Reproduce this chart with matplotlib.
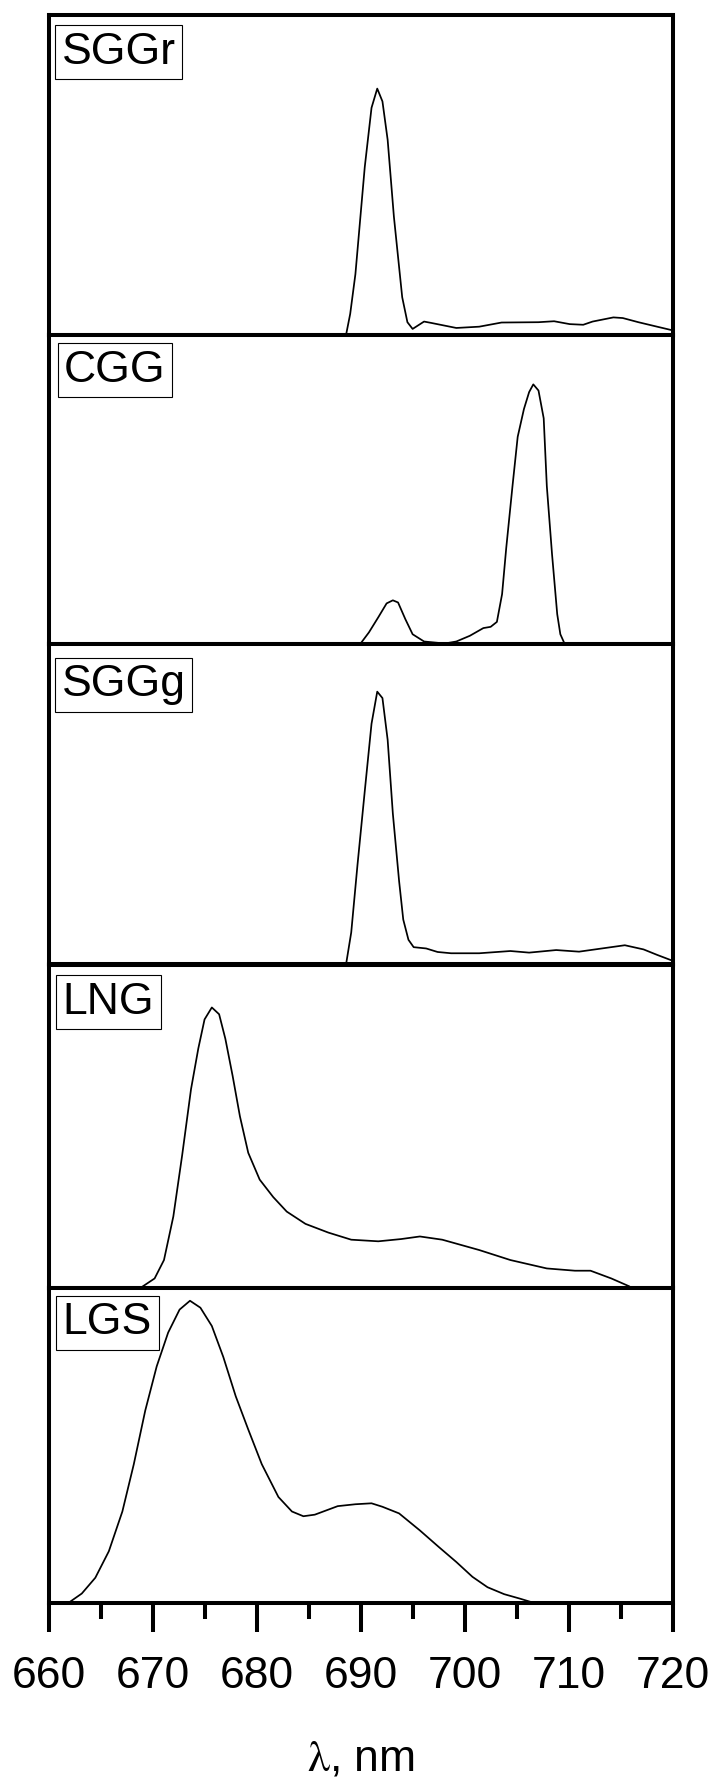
import matplotlib
matplotlib.use("Agg")
import matplotlib.pyplot as plt
import numpy as np

plt.rcParams['font.family'] = ['Liberation Sans', 'DejaVu Sans']
plt.rcParams['mathtext.fontset'] = 'stix'

# ---- data (wavelength nm, relative intensity 0..1 of panel height) ----
sggr_x = [688.6, 689.0, 689.5, 690.4, 691.05, 691.6, 692.1, 692.6, 693.2, 694.0, 694.5, 695.0,
          696.1, 696.75, 699.2, 701.4, 703.55, 707.1, 708.6, 710.1, 711.4, 712.3, 714.3, 715.2,
          716.7, 718.5, 719.8, 720.0]
sggr_y = [0.0, 0.066, 0.19, 0.525, 0.71, 0.77, 0.73, 0.61, 0.37, 0.118, 0.04, 0.019,
          0.042, 0.038, 0.022, 0.026, 0.039, 0.04, 0.043, 0.034, 0.032, 0.042, 0.055, 0.053,
          0.040, 0.026, 0.016, 0.014]

cgg_x = [690.0, 690.8, 691.7, 692.5, 693.1, 693.6, 694.3, 695.0, 696.1, 698.1, 699.2, 700.5,
         701.8, 702.5, 703.1, 703.6, 704.0, 704.6, 705.1, 705.7, 706.2, 706.6, 707.1, 707.6,
         707.9, 708.4, 708.9, 709.2, 709.6]
cgg_y = [0.0, 0.036, 0.085, 0.13, 0.14, 0.133, 0.079, 0.03, 0.0065, 0.0, 0.0065, 0.025,
         0.05, 0.054, 0.07, 0.16, 0.31, 0.51, 0.67, 0.76, 0.815, 0.84, 0.82, 0.73,
         0.51, 0.29, 0.095, 0.03, 0.0]

sggg_x = [688.6, 689.1, 689.7, 690.4, 691.05, 691.6, 692.1, 692.6, 693.1, 693.7, 694.1, 694.6,
          695.1, 696.3, 697.4, 698.7, 701.4, 704.4, 706.2, 708.8, 711.0, 713.2, 715.4, 717.2,
          718.5, 719.8, 720.0]
sggg_y = [0.0, 0.1, 0.31, 0.54, 0.75, 0.85, 0.83, 0.70, 0.47, 0.26, 0.14, 0.077,
          0.054, 0.05, 0.039, 0.035, 0.035, 0.042, 0.037, 0.045, 0.04, 0.05, 0.06, 0.047,
          0.03, 0.014, 0.012]

lng_x = [668.9, 670.2, 671.1, 672.0, 672.85, 673.7, 674.4, 675.0, 675.7, 676.4, 677.0, 677.7,
         678.4, 679.2, 680.3, 681.6, 682.9, 684.7, 686.9, 689.1, 691.7, 693.9, 695.7, 697.85,
         701.4, 704.4, 707.9, 710.6, 712.1, 714.1, 715.8]
lng_y = [0.0, 0.028, 0.085, 0.22, 0.41, 0.614, 0.74, 0.83, 0.867, 0.846, 0.77, 0.655,
         0.53, 0.417, 0.334, 0.28, 0.235, 0.197, 0.17, 0.148, 0.143, 0.15, 0.158, 0.148,
         0.116, 0.085, 0.059, 0.052, 0.052, 0.028, 0.004]

lgs_x = [661.9, 663.2, 664.5, 665.8, 667.1, 668.2, 669.3, 670.4, 671.5, 672.6, 673.6, 674.6,
         675.7, 676.8, 678.0, 679.2, 680.5, 682.1, 683.4, 684.5, 685.6, 687.8, 689.5, 691.05,
         692.1, 693.7, 695.7, 697.5, 699.2, 700.75, 702.2, 703.8, 705.3, 706.4]
lgs_y = [0.0, 0.03, 0.08, 0.164, 0.29, 0.44, 0.61, 0.75, 0.857, 0.93, 0.958, 0.936,
         0.878, 0.78, 0.655, 0.55, 0.44, 0.336, 0.29, 0.275, 0.28, 0.307, 0.313, 0.316,
         0.305, 0.284, 0.23, 0.178, 0.13, 0.083, 0.05, 0.028, 0.014, 0.003]

names = ['SGGr', 'CGG', 'SGGg', 'LNG', 'LGS']
series = [(sggr_x, sggr_y), (cgg_x, cgg_y), (sggg_x, sggg_y), (lng_x, lng_y), (lgs_x, lgs_y)]

major_ticks = [660, 670, 680, 690, 700, 710, 720]
minor_ticks = [665, 675, 685, 695, 705, 715]
xlabel = r'$\mathrm{\lambda}$, nm'

# ---- layout (pixels) ----
W, H = 715, 1780
bounds = [15, 335, 643.5, 964.5, 1287.5, 1603]
left_px, right_px = 48.5, 672.7
box_top_gap = [10, 8, 14, 10.5, 8]     # px from panel top to label box top
box_left = [55, 57.5, 55, 56, 56]      # px from figure left to label box left
FS = 32
pad_frac = 0.15
pad_px = pad_frac * FS * 100 / 72

fig = plt.figure(figsize=(W / 100, H / 100), dpi=100)
axes = []
for i in range(5):
    top, bot = bounds[i], bounds[i + 1]
    ax = fig.add_axes([left_px / W, 1 - bot / H, (right_px - left_px) / W, (bot - top) / H])
    axes.append(ax)

for i, ax in enumerate(axes):
    xs, ys = series[i]
    ax.plot(xs, ys, color='black', lw=1.25, solid_joinstyle='round')
    ax.set_xlim(660, 720)
    ax.set_ylim(0, 1)
    for sp in ax.spines.values():
        sp.set_linewidth(2.9)
        sp.set_zorder(3)
    ax.set_yticks([])
    dx = box_left[i] - left_px + pad_px
    dy = -(box_top_gap[i] + pad_px)
    ax.annotate(names[i], xy=(0, 1), xycoords='axes fraction',
                xytext=(dx, dy), textcoords='offset pixels',
                ha='left', va='top', fontsize=FS,
                bbox=dict(boxstyle='square,pad=%.3f' % pad_frac, fc='white', ec='black', lw=0.8))
    if i < 4:
        ax.set_xticks([])
    else:
        ax.set_xticks(major_ticks)
        ax.set_xticks(minor_ticks, minor=True)
        ax.tick_params(axis='x', which='major', direction='out', length=20.9, width=2.9,
                       labelsize=FS, pad=17)
        ax.tick_params(axis='x', which='minor', direction='out', length=11.5, width=2.9)
        ax.set_xlabel(xlabel, fontsize=FS, va='center')
        ax.xaxis.set_label_coords(0.5, -(1759 - 1603) / (1603 - 1287.5))

fig.savefig('out.png', dpi=100)
